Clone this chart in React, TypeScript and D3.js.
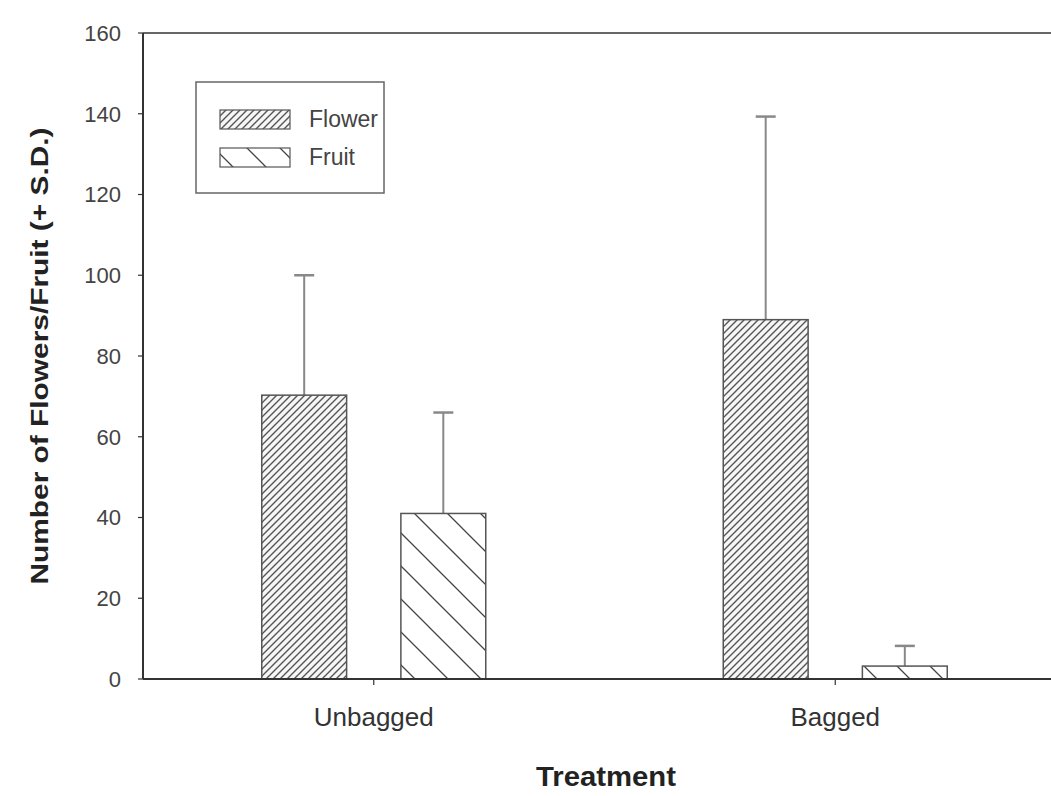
import React from "react";
import * as d3 from "d3";

const categories = ["Unbagged", "Bagged"];
const seriesNames = ["Flower", "Fruit"];
const flowerMeans = [70.3, 89];
const flowerSD = [29.7, 50.3];
const fruitMeans = [41, 3.2];
const fruitSD = [25, 5];
const yTicks = [0, 20, 40, 60, 80, 100, 120, 140, 160];

const W = 1051;
const H = 796;
const FONT = "Arial, 'Liberation Sans', sans-serif";

export default function App() {
  const left = 143, right = 1066, top = 33, bottom = 679;
  const y = d3.scaleLinear().domain([0, 160]).range([bottom, top]);
  const x = d3.scalePoint<string>().domain(categories).range([left, right]).padding(0.5);
  const xs = d3.scaleBand<string>().domain(seriesNames).range([-112, 112]).paddingInner(0.39).paddingOuter(0);
  const bw = xs.bandwidth();

  const rows = categories.flatMap((c, i) => [
    { cat: c, s: "Flower", mean: flowerMeans[i], sd: flowerSD[i], fill: "url(#hatchFlower)" },
    { cat: c, s: "Fruit", mean: fruitMeans[i], sd: fruitSD[i], fill: "url(#hatchFruit)" },
  ]);

  const legend = [
    { name: seriesNames[0], fill: "url(#hatchFlower)", y0: 110 },
    { name: seriesNames[1], fill: "url(#hatchFruit)", y0: 148 },
  ];

  return (
    <div style={{ position: "absolute", left: 0, top: 0, width: W, height: H, background: "#fff" }}>
      <svg width={W} height={H} style={{ display: "block" }} fontFamily={FONT}>
        <defs>
          <pattern id="hatchFlower" patternUnits="userSpaceOnUse" width="7" height="7">
            <rect width="7" height="7" fill="#f6f6f6" />
            <path d="M-2,2 L2,-2 M0,7 L7,0 M5,9 L9,5" stroke="#555" strokeWidth="1.4" />
          </pattern>
          <pattern id="hatchFruit" patternUnits="userSpaceOnUse" width="33" height="33">
            <rect width="33" height="33" fill="#fff" />
            <path d="M0,0 L33,33 M-8,25 L8,41 M25,-8 L41,8" stroke="#444" strokeWidth="1.3" />
          </pattern>
        </defs>

        {/* bars */}
        {rows.map((r, i) => {
          const bx = (x(r.cat) as number) + (xs(r.s) as number);
          const cx = bx + bw / 2;
          return (
            <g key={i}>
              <line x1={cx} x2={cx} y1={y(r.mean)} y2={y(r.mean + r.sd)} stroke="#888" strokeWidth={2} />
              <line x1={cx - 10} x2={cx + 10} y1={y(r.mean + r.sd)} y2={y(r.mean + r.sd)} stroke="#888" strokeWidth={2.5} />
              <rect x={bx} y={y(r.mean)} width={bw} height={bottom - y(r.mean)} fill={r.fill} stroke="#555" strokeWidth={1.5} />
            </g>
          );
        })}

        {/* frame */}
        <line x1={left} x2={W + 20} y1={top} y2={top} stroke="#333" strokeWidth={1.5} />
        <line x1={left} x2={left} y1={top} y2={bottom} stroke="#333" strokeWidth={2} />
        <line x1={left} x2={W + 20} y1={bottom} y2={bottom} stroke="#333" strokeWidth={2} />

        {/* y ticks */}
        {yTicks.map((t) => (
          <g key={t}>
            <line x1={left - 5} x2={left} y1={y(t)} y2={y(t)} stroke="#333" strokeWidth={1.2} />
            <text x={121} y={y(t)} dy="0.36em" textAnchor="end" fontSize={22} fill="#444">
              {t}
            </text>
          </g>
        ))}

        {/* x ticks */}
        {categories.map((c) => (
          <g key={c}>
            <line x1={x(c)} x2={x(c)} y1={bottom} y2={bottom + 6} stroke="#333" strokeWidth={1.2} />
            <text x={x(c)} y={726} textAnchor="middle" fontSize={26} fill="#333">
              {c}
            </text>
          </g>
        ))}

        {/* axis titles */}
        <text x={606} y={786} textAnchor="middle" fontSize={27} fontWeight="bold" fill="#222" textLength={140} lengthAdjust="spacingAndGlyphs">
          Treatment
        </text>
        <text transform="translate(48,356) rotate(-90)" textAnchor="middle" fontSize={24} fontWeight="bold" fill="#222" textLength={457} lengthAdjust="spacingAndGlyphs">
          Number of Flowers/Fruit (+ S.D.)
        </text>

        {/* legend */}
        <rect x={196} y={82} width={188} height={111} fill="#fff" stroke="#666" strokeWidth={1.5} />
        {legend.map((l) => (
          <g key={l.name}>
            <rect x={220} y={l.y0} width={70} height={19} fill={l.fill} stroke="#555" strokeWidth={1.2} />
            <text x={309} y={l.y0 + 17} fontSize={23} fill="#444">
              {l.name}
            </text>
          </g>
        ))}
      </svg>
    </div>
  );
}
